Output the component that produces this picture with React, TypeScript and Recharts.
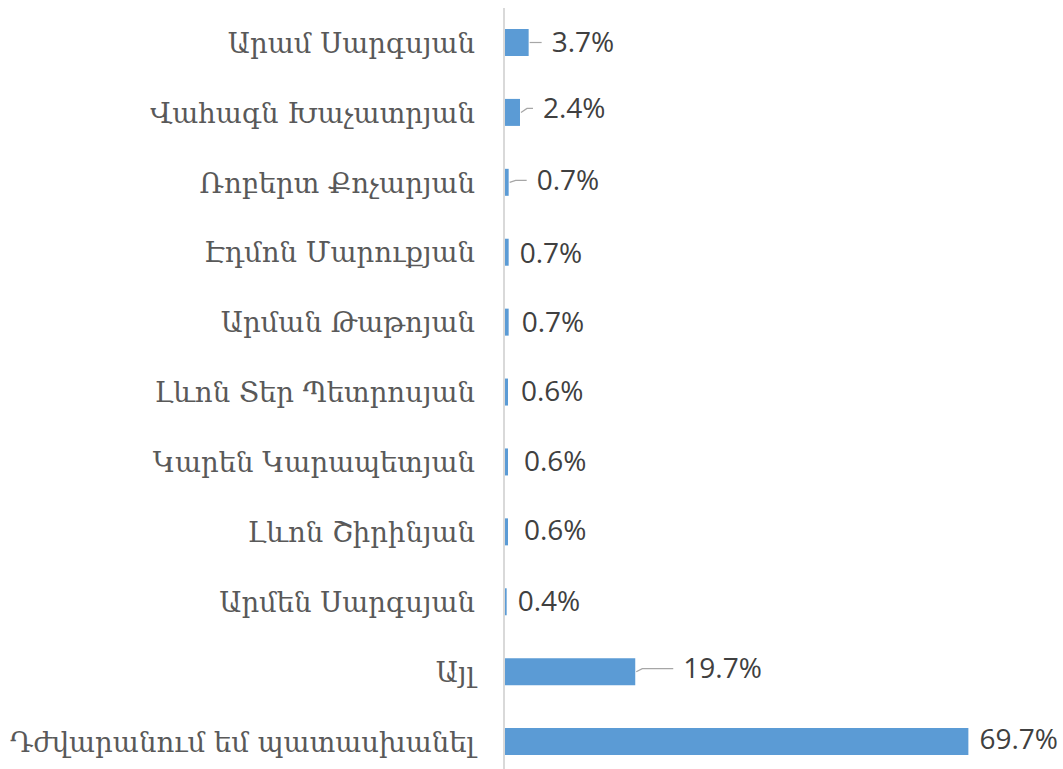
import { BarChart, Bar, XAxis, YAxis, LabelList } from "recharts";

const candidates = [
  "Արամ Սարգսյան",
  "Վահագն Խաչատրյան",
  "Ռոբերտ Քոչարյան",
  "Էդմոն Մարուքյան",
  "Արման Թաթոյան",
  "Լևոն Տեր Պետրոսյան",
  "Կարեն Կարապետյան",
  "Լևոն Շիրինյան",
  "Արմեն Սարգսյան",
  "Այլ",
  "Դժվարանում եմ պատասխանել",
];

const shares = [3.7, 2.4, 0.7, 0.7, 0.7, 0.6, 0.6, 0.6, 0.4, 19.7, 69.7];

const data = candidates.map((name, i) => ({ name, share: shares[i] }));

// labels that were dragged off the bar end in the original, with a leader line
const labelNudge = [
  { dx: 12, dy: 0 },
  { dx: 12, dy: -4 },
  { dx: 17, dy: -2 },
  { dx: 0, dy: 1 },
  { dx: 2, dy: 0 },
  { dx: 2, dy: -1 },
  { dx: 5, dy: 0 },
  { dx: 5, dy: -1 },
  { dx: 0, dy: 0 },
  { dx: 37, dy: -3 },
  { dx: 0, dy: -2 },
];

function ValueLabel(props: any) {
  const { x, y, width, height, value, index } = props;
  const nudge = labelNudge[index] || { dx: 0, dy: 0 };
  const barEnd = x + width;
  const cy = y + height / 2;
  const lx = barEnd + 11 + nudge.dx;
  const ly = cy + nudge.dy;
  return (
    <g>
      {nudge.dx >= 10 && (
        <polyline
          points={`${barEnd + 1},${cy} ${barEnd + 7},${ly} ${lx - 10},${ly}`}
          fill="none"
          stroke="#a6a6a6"
          strokeWidth={1.2}
        />
      )}
      <text
        x={lx}
        y={ly}
        dy="0.34em"
        textAnchor="start"
        fill="#404040"
        fontSize={28}
        fontFamily="'Open Sans', 'Noto Sans', sans-serif"
      >
        {value}%
      </text>
    </g>
  );
}

export default function App() {
  return (
    <div style={{ position: "absolute", left: 0, top: 0, background: "#fff" }}>
      <BarChart
        layout="vertical"
        width={1063}
        height={777}
        data={data}
        margin={{ top: 8, right: 26, bottom: 0, left: 0 }}
        barSize={27}
      >
        <XAxis type="number" domain={[0, 80]} hide />
        <YAxis
          type="category"
          dataKey="name"
          width={504}
          axisLine={{ stroke: "#d9d9d9", strokeWidth: 2 }}
          tickLine={false}
          tickSize={0}
          tickMargin={29}
          interval={0}
          tick={{
            fill: "#595959",
            fontSize: 27.5,
            fontFamily: "'DejaVu Serif', serif",
          }}
        />
        <Bar dataKey="share" fill="#5b9bd5" isAnimationActive={false}>
          <LabelList dataKey="share" content={ValueLabel} />
        </Bar>
      </BarChart>
    </div>
  );
}
